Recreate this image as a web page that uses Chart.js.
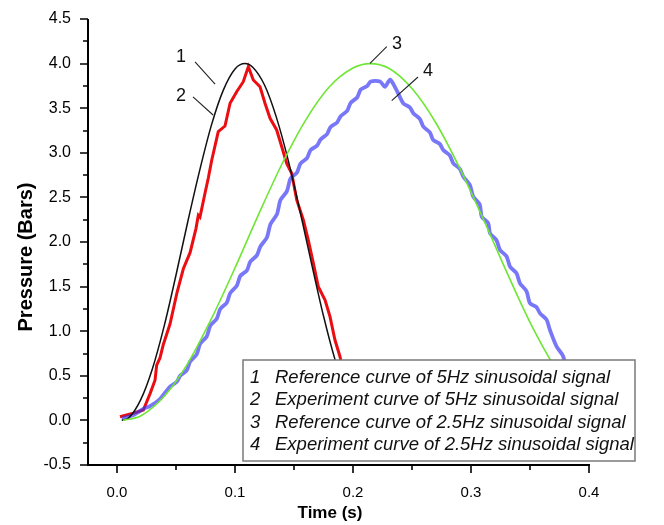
<!DOCTYPE html>
<html><head><meta charset="utf-8">
<script src="https://cdn.jsdelivr.net/npm/chart.js@4.4.1/dist/chart.umd.min.js"></script>
<style>html,body{margin:0;padding:0;background:#fff;}#wrap{width:664px;height:525px;}</style>
</head><body><div id="wrap"><canvas id="c" width="664" height="525"></canvas></div>
<script>
// ---- data (time in s, pressure in bars) ----
const ref5Time = [0.004,0.01,0.02,0.03,0.04,0.05,0.06,0.07,0.08,0.09,0.1,0.1085,0.115,0.125,0.135,0.145,0.155,0.165,0.175,0.185,0.195,0.205,0.213];
const ref5Pressure = [0.0,0.03,0.23,0.58,1.06,1.63,2.23,2.80,3.31,3.70,3.94,4.0,3.96,3.76,3.40,2.92,2.35,1.75,1.17,0.67,0.28,0.06,0.0];

const exp5Time = [0.0025,0.0138,0.0223,0.028,0.0322,0.0336,0.0364,0.0392,0.0449,0.0506,0.0562,0.0619,0.0669,0.0689,0.0703,0.0746,0.0774,0.0803,0.0858,0.0915,0.0958,0.1014,0.107,0.1113,0.1155,0.1212,0.1254,0.1297,0.1353,0.1396,0.1438,0.148,0.1523,0.1579,0.1621,0.1664,0.1706,0.1763,0.1805,0.1847,0.189,0.193,0.197];
const exp5Pressure = [0.041,0.08,0.117,0.30,0.45,0.62,0.70,0.85,1.08,1.42,1.70,1.88,2.15,2.30,2.28,2.55,2.72,2.92,3.237,3.30,3.555,3.685,3.797,3.965,3.816,3.741,3.555,3.387,3.256,3.068,2.882,2.77,2.471,2.247,2.022,1.761,1.499,1.35,1.163,0.901,0.714,0.45,0.12];

const ref25Time = [0.005,0.02,0.04,0.06,0.08,0.1,0.12,0.14,0.16,0.18,0.2,0.2144,0.23,0.25,0.27,0.29,0.31,0.33,0.35,0.37,0.39,0.41];
const ref25Pressure = [0.0,0.05,0.27,0.64,1.14,1.71,2.31,2.88,3.37,3.74,3.95,4.0,3.95,3.72,3.34,2.84,2.27,1.67,1.10,0.62,0.25,0.04];

const exp25Time = [0.004,0.0138,0.0223,0.028,0.0364,0.045,0.0505,0.0535,0.059,0.062,0.0675,0.0705,0.076,0.079,0.0845,0.0875,0.093,0.096,0.1015,0.1045,0.11,0.113,0.1185,0.1215,0.127,0.13,0.1355,0.1385,0.144,0.147,0.1525,0.1555,0.161,0.164,0.1695,0.1725,0.178,0.181,0.1865,0.1895,0.195,0.198,0.2035,0.2065,0.212,0.215,0.2229,0.2271,0.2314,0.237,0.2426,0.2481,0.2511,0.2566,0.2596,0.2651,0.268,0.2735,0.2765,0.282,0.285,0.2905,0.2935,0.299,0.3019,0.3074,0.3091,0.3146,0.3161,0.3216,0.3246,0.3301,0.3331,0.3386,0.3415,0.347,0.35,0.3555,0.3585,0.364,0.3669,0.3726,0.378,0.384];
const exp25Pressure = [0.02,0.06,0.13,0.16,0.24,0.38,0.43,0.50,0.56,0.66,0.74,0.86,0.94,1.06,1.14,1.25,1.32,1.43,1.51,1.62,1.68,1.78,1.85,1.95,2.05,2.20,2.31,2.47,2.57,2.71,2.78,2.88,2.94,3.03,3.08,3.15,3.21,3.29,3.34,3.41,3.47,3.56,3.62,3.71,3.75,3.80,3.80,3.74,3.82,3.70,3.555,3.51,3.443,3.38,3.293,3.23,3.143,3.10,3.031,2.97,2.882,2.82,2.732,2.64,2.508,2.42,2.284,2.21,2.098,2.02,1.91,1.84,1.723,1.65,1.537,1.45,1.313,1.27,1.2,1.13,1.013,0.826,0.722,0.40];

const xMajorTicks = [0, 0.1, 0.2, 0.3, 0.4];
const xMinorTicks = [0.05, 0.15, 0.25, 0.35];
const yMajorTicks = [-0.5, 0, 0.5, 1, 1.5, 2, 2.5, 3, 3.5, 4, 4.5];
const yMinorTicks = [-0.25, 0.25, 0.75, 1.25, 1.75, 2.25, 2.75, 3.25, 3.75, 4.25];
const curveNumbers = ['1', '2', '3', '4'];
const legendTexts = [
  'Reference curve of 5Hz sinusoidal signal',
  'Experiment curve of 5Hz sinusoidal signal',
  'Reference curve of 2.5Hz sinusoidal signal',
  'Experiment curve of 2.5Hz sinusoidal signal'
];
const xTitle = 'Time (s)';
const yTitle = 'Pressure (Bars)';

// callout label anchors (data space)
const calloutLabelX = [0.0542, 0.0542, 0.2373, 0.2636];
const calloutLabelY = [4.074, 3.637, 4.22, 3.917];
const calloutFromX = [0.0661, 0.0644, 0.2286, 0.2551];
const calloutFromY = [4.018, 3.626, 4.19, 3.85];
const calloutToX = [0.0831, 0.0814, 0.2144, 0.2328];
const calloutToY = [3.771, 3.424, 4.003, 3.584];

const FONT = '"Liberation Sans", Arial, Helvetica, sans-serif';
Chart.defaults.font.family = FONT;
Chart.defaults.color = '#000';

function pts(ts, ps) { return ts.map((t, i) => ({ x: t, y: ps[i] })); }

const overlay = {
  id: 'overlay',
  afterDatasetsDraw(chart) {
    const ctx = chart.ctx, xs = chart.scales.x, ys = chart.scales.y;
    ctx.save();
    // callouts
    ctx.strokeStyle = '#222'; ctx.lineWidth = 1.1;
    ctx.fillStyle = '#111';
    ctx.font = '18px ' + FONT; ctx.textAlign = 'center'; ctx.textBaseline = 'middle';
    for (let i = 0; i < curveNumbers.length; i++) {
      ctx.beginPath();
      ctx.moveTo(xs.getPixelForValue(calloutFromX[i]), ys.getPixelForValue(calloutFromY[i]));
      ctx.lineTo(xs.getPixelForValue(calloutToX[i]), ys.getPixelForValue(calloutToY[i]));
      ctx.stroke();
      ctx.fillText(curveNumbers[i], xs.getPixelForValue(calloutLabelX[i]), ys.getPixelForValue(calloutLabelY[i]));
    }
    // legend box
    const ca = chart.chartArea;
    const bx = 243, by = 360, bw = ca.right + 46 - bx, bh = ca.bottom - 4 - by;
    ctx.fillStyle = '#fff';
    ctx.fillRect(bx, by, bw, bh);
    ctx.strokeStyle = '#7a7a7a'; ctx.lineWidth = 1.5;
    ctx.strokeRect(bx, by, bw, bh);
    ctx.fillStyle = '#111';
    ctx.font = 'italic 18.5px ' + FONT; ctx.textAlign = 'left'; ctx.textBaseline = 'middle';
    for (let i = 0; i < legendTexts.length; i++) {
      const y = by + 17.5 + i * 22.6;
      ctx.fillText(curveNumbers[i], bx + 7, y);
      ctx.fillText(legendTexts[i], bx + 32, y);
    }
    ctx.restore();
  },
  afterDraw(chart) {
    const ctx = chart.ctx, xs = chart.scales.x, ys = chart.scales.y, ca = chart.chartArea;
    ctx.save();
    ctx.strokeStyle = '#000'; ctx.lineCap = 'butt';
    ctx.lineWidth = 2;
    ctx.beginPath();
    ctx.moveTo(ca.left, ca.top); ctx.lineTo(ca.left, ca.bottom + 1);
    ctx.moveTo(ca.left - 1, ca.bottom); ctx.lineTo(xs.getPixelForValue(0.4) + 1, ca.bottom);
    ctx.stroke();
    ctx.lineWidth = 1.6;
    ctx.beginPath();
    xMajorTicks.forEach(v => { const p = Math.round(xs.getPixelForValue(v)); ctx.moveTo(p, ca.bottom); ctx.lineTo(p, ca.bottom + 8); });
    xMinorTicks.forEach(v => { const p = Math.round(xs.getPixelForValue(v)); ctx.moveTo(p, ca.bottom); ctx.lineTo(p, ca.bottom + 5); });
    yMajorTicks.forEach(v => { const p = Math.round(ys.getPixelForValue(v)); ctx.moveTo(ca.left, p); ctx.lineTo(ca.left - 8, p); });
    yMinorTicks.forEach(v => { const p = Math.round(ys.getPixelForValue(v)); ctx.moveTo(ca.left, p); ctx.lineTo(ca.left - 5, p); });
    ctx.stroke();
    // axis titles
    ctx.fillStyle = '#000';
    ctx.textAlign = 'center'; ctx.textBaseline = 'middle';
    ctx.font = 'bold 17px ' + FONT;
    ctx.fillText(xTitle, 330, 513);
    ctx.translate(26, 257);
    ctx.rotate(-Math.PI / 2);
    ctx.font = 'bold 20px ' + FONT;
    ctx.fillText(yTitle, 0, 0);
    ctx.restore();
  }
};

new Chart(document.getElementById('c'), {
  type: 'line',
  data: {
    datasets: [
      { label: legendTexts[1], data: pts(exp5Time, exp5Pressure), borderColor: '#ec0d12', borderWidth: 3, pointRadius: 0, tension: 0, order: 4 },
      { label: legendTexts[3], data: pts(exp25Time, exp25Pressure), borderColor: 'rgba(55,55,245,0.68)', borderWidth: 3.8, pointRadius: 0, tension: 0.25, order: 3 },
      { label: legendTexts[0], data: pts(ref5Time, ref5Pressure), borderColor: '#111', borderWidth: 1.5, pointRadius: 0, cubicInterpolationMode: 'monotone', order: 2 },
      { label: legendTexts[2], data: pts(ref25Time, ref25Pressure), borderColor: '#6ee634', borderWidth: 1.6, pointRadius: 0, cubicInterpolationMode: 'monotone', order: 1 }
    ]
  },
  options: {
    responsive: false, animation: false, devicePixelRatio: 1,
    layout: { padding: { left: 0, right: 75, top: 19, bottom: 0 } },
    plugins: { legend: { display: false }, tooltip: { enabled: false } },
    scales: {
      x: {
        type: 'linear', min: -0.0246, max: 0.4,
        afterBuildTicks: s => { s.ticks = xMajorTicks.map(v => ({ value: v })); },
        ticks: { padding: 19, font: { size: 15 }, color: '#000', maxRotation: 0, autoSkip: false, callback: v => v.toFixed(1) },
        grid: { display: false, drawTicks: false }, border: { display: false },
        afterFit: s => { s.height = 60; s.paddingLeft = 0; s.paddingRight = 0; }
      },
      y: {
        type: 'linear', min: -0.5, max: 4.5,
        afterBuildTicks: s => { s.ticks = yMajorTicks.map(v => ({ value: v })); },
        ticks: { padding: 17, font: { size: 16 }, color: '#000', autoSkip: false, callback: v => v.toFixed(1) },
        grid: { display: false, drawTicks: false }, border: { display: false },
        afterFit: s => { s.width = 88; s.paddingTop = 0; s.paddingBottom = 0; }
      }
    }
  },
  plugins: [overlay]
});
</script></body></html>
